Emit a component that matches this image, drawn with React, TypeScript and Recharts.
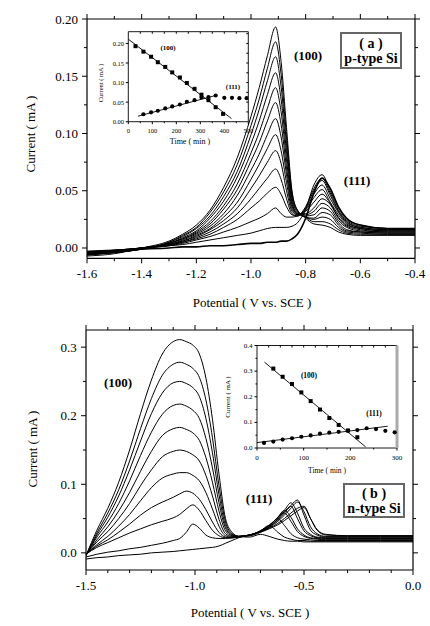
import React from 'react';
import { LineChart, ComposedChart, Line, Scatter, XAxis, YAxis, CartesianGrid } from 'recharts';

const SERIF = "'Liberation Serif', 'Times New Roman', serif";

// ---------- (a) p-type Si : linear sweep curves ----------
const potentialsA = [-1.6, -1.5, -1.4, -1.3, -1.25, -1.2, -1.15, -1.1, -1.05, -1.0, -0.97, -0.94, -0.91, -0.89, -0.87, -0.85, -0.83, -0.8, -0.77, -0.74, -0.71, -0.68, -0.65, -0.6, -0.5, -0.4];

const scanA01 = [-0.007, -0.005, 0.0, 0.006, 0.012, 0.02, 0.033, 0.053, 0.079, 0.115, 0.14, 0.168, 0.193, 0.163, 0.105, 0.05, 0.033, 0.026, 0.021, 0.02, 0.018, 0.014, 0.012, 0.011, 0.011, 0.011];
const scanA02 = [-0.006, -0.004, -0.001, 0.005, 0.011, 0.018, 0.031, 0.049, 0.073, 0.107, 0.13, 0.157, 0.18, 0.152, 0.098, 0.048, 0.033, 0.027, 0.023, 0.023, 0.021, 0.016, 0.013, 0.012, 0.012, 0.012];
const scanA03 = [-0.006, -0.004, -0.001, 0.005, 0.01, 0.017, 0.028, 0.045, 0.067, 0.099, 0.121, 0.146, 0.167, 0.141, 0.091, 0.045, 0.032, 0.027, 0.025, 0.027, 0.025, 0.018, 0.014, 0.013, 0.012, 0.012];
const scanA04 = [-0.006, -0.004, -0.001, 0.004, 0.009, 0.015, 0.026, 0.041, 0.062, 0.091, 0.111, 0.134, 0.153, 0.13, 0.084, 0.043, 0.031, 0.027, 0.026, 0.031, 0.029, 0.02, 0.015, 0.014, 0.013, 0.013];
const scanA05 = [-0.005, -0.004, -0.001, 0.004, 0.008, 0.014, 0.023, 0.037, 0.056, 0.083, 0.101, 0.122, 0.14, 0.119, 0.077, 0.04, 0.03, 0.028, 0.029, 0.035, 0.032, 0.022, 0.016, 0.014, 0.013, 0.013];
const scanA06 = [-0.005, -0.003, 0.0, 0.004, 0.008, 0.013, 0.021, 0.034, 0.051, 0.076, 0.092, 0.111, 0.127, 0.108, 0.07, 0.038, 0.03, 0.029, 0.032, 0.039, 0.035, 0.024, 0.018, 0.015, 0.014, 0.014];
const scanA07 = [-0.005, -0.003, 0.0, 0.003, 0.007, 0.012, 0.019, 0.03, 0.046, 0.068, 0.082, 0.099, 0.113, 0.097, 0.064, 0.036, 0.03, 0.03, 0.035, 0.043, 0.038, 0.026, 0.019, 0.016, 0.014, 0.014];
const scanA08 = [-0.005, -0.003, 0.0, 0.003, 0.006, 0.011, 0.017, 0.027, 0.04, 0.06, 0.073, 0.087, 0.099, 0.085, 0.057, 0.034, 0.029, 0.032, 0.04, 0.047, 0.039, 0.027, 0.02, 0.017, 0.015, 0.015];
const scanA09 = [-0.004, -0.003, 0.0, 0.003, 0.006, 0.01, 0.016, 0.024, 0.035, 0.052, 0.063, 0.075, 0.085, 0.074, 0.05, 0.032, 0.029, 0.033, 0.044, 0.051, 0.04, 0.029, 0.021, 0.017, 0.015, 0.015];
const scanA10 = [-0.004, -0.003, 0.0, 0.003, 0.005, 0.009, 0.014, 0.021, 0.03, 0.043, 0.052, 0.061, 0.069, 0.06, 0.043, 0.03, 0.028, 0.034, 0.047, 0.055, 0.043, 0.031, 0.022, 0.018, 0.016, 0.016];
const scanA11 = [-0.004, -0.002, 0.0, 0.002, 0.005, 0.008, 0.012, 0.018, 0.025, 0.035, 0.041, 0.048, 0.053, 0.047, 0.036, 0.029, 0.028, 0.035, 0.05, 0.059, 0.046, 0.032, 0.023, 0.018, 0.016, 0.016];
const scanA12 = [-0.004, -0.002, 0.0, 0.002, 0.004, 0.007, 0.01, 0.014, 0.018, 0.023, 0.026, 0.03, 0.035, 0.03, 0.027, 0.027, 0.028, 0.036, 0.052, 0.061, 0.048, 0.033, 0.024, 0.019, 0.017, 0.016];
const scanA13 = [-0.003, -0.002, 0.0, 0.002, 0.003, 0.005, 0.007, 0.009, 0.011, 0.013, 0.015, 0.017, 0.018, 0.018, 0.018, 0.019, 0.022, 0.034, 0.055, 0.064, 0.05, 0.035, 0.025, 0.02, 0.017, 0.017];
const scanA14 = [-0.003, -0.002, -0.001, 0.0, 0.001, 0.001, 0.002, 0.002, 0.003, 0.004, 0.004, 0.005, 0.005, 0.006, 0.006, 0.008, 0.012, 0.026, 0.048, 0.061, 0.052, 0.036, 0.026, 0.02, 0.017, 0.017];
const scansA = [scanA01, scanA02, scanA03, scanA04, scanA05, scanA06, scanA07, scanA08, scanA09, scanA10, scanA11, scanA12, scanA13, scanA14];

const xTicksA = [-1.6, -1.5, -1.4, -1.3, -1.2, -1.1, -1.0, -0.9, -0.8, -0.7, -0.6, -0.5, -0.4];
const xMajorsA = [-1.6, -1.4, -1.2, -1.0, -0.8, -0.6, -0.4];
const xLabelsA = ['-1.6', '-1.4', '-1.2', '-1.0', '-0.8', '-0.6', '-0.4'];
const yTicksA = [0, 0.025, 0.05, 0.075, 0.1, 0.125, 0.15, 0.175, 0.2];
const yMajorsA = [0, 0.05, 0.1, 0.15, 0.2];
const yLabelsA = ['0.00', '0.05', '0.10', '0.15', '0.20'];

// inset (a): peak current vs time
const timeA100 = [30, 63, 95, 123, 154, 183, 215, 244, 276, 305, 334, 364, 395];
const currentA100 = [0.193, 0.179, 0.166, 0.152, 0.14, 0.126, 0.113, 0.099, 0.084, 0.069, 0.055, 0.037, 0.02];
const timeA111 = [63, 95, 123, 154, 183, 215, 244, 276, 305, 334, 364, 400, 432, 463, 493];
const currentA111 = [0.019, 0.024, 0.028, 0.034, 0.039, 0.044, 0.051, 0.055, 0.062, 0.063, 0.067, 0.061, 0.061, 0.06, 0.06];
const fitTimeA100 = [0, 430];
const fitCurrentA100 = [0.211, 0.008];
const fitTimeA111 = [40, 370];
const fitCurrentA111 = [0.014, 0.068];

// ---------- (b) n-type Si ----------
const potentialsB = [-1.5, -1.45, -1.4, -1.35, -1.3, -1.25, -1.2, -1.15, -1.1, -1.07, -1.04, -1.01, -0.98, -0.95, -0.92, -0.89, -0.86, -0.83, -0.8, -0.75, -0.7, -0.66, -0.62, -0.59, -0.56, -0.53, -0.5, -0.47, -0.44, -0.4, -0.3, -0.15, 0.0];

const scanB01 = [-0.004, 0.033, 0.065, 0.103, 0.15, 0.203, 0.252, 0.29, 0.308, 0.311, 0.308, 0.303, 0.29, 0.255, 0.195, 0.115, 0.05, 0.03, 0.024, 0.023, 0.027, 0.024, 0.02, 0.018, 0.017, 0.017, 0.016, 0.016, 0.016, 0.016, 0.016, 0.016, 0.016];
const scanB02 = [-0.004, 0.029, 0.058, 0.092, 0.134, 0.181, 0.225, 0.259, 0.275, 0.278, 0.275, 0.269, 0.256, 0.223, 0.168, 0.098, 0.045, 0.028, 0.024, 0.025, 0.032, 0.04, 0.03, 0.023, 0.02, 0.018, 0.018, 0.017, 0.017, 0.017, 0.017, 0.017, 0.017];
const scanB03 = [-0.004, 0.026, 0.052, 0.083, 0.121, 0.163, 0.203, 0.233, 0.248, 0.25, 0.247, 0.241, 0.228, 0.196, 0.146, 0.085, 0.04, 0.027, 0.024, 0.025, 0.03, 0.038, 0.05, 0.04, 0.028, 0.022, 0.02, 0.019, 0.018, 0.018, 0.018, 0.018, 0.018];
const scanB04 = [-0.004, 0.023, 0.045, 0.072, 0.105, 0.142, 0.176, 0.202, 0.215, 0.217, 0.214, 0.208, 0.196, 0.167, 0.124, 0.073, 0.036, 0.026, 0.024, 0.026, 0.031, 0.038, 0.049, 0.058, 0.046, 0.031, 0.024, 0.021, 0.02, 0.019, 0.019, 0.019, 0.019];
const scanB05 = [-0.003, 0.019, 0.038, 0.061, 0.088, 0.119, 0.148, 0.171, 0.181, 0.183, 0.18, 0.175, 0.164, 0.139, 0.103, 0.061, 0.032, 0.025, 0.024, 0.026, 0.032, 0.04, 0.052, 0.062, 0.052, 0.035, 0.026, 0.022, 0.021, 0.02, 0.02, 0.02, 0.02];
const scanB06 = [-0.003, 0.016, 0.031, 0.05, 0.072, 0.098, 0.121, 0.14, 0.148, 0.15, 0.148, 0.143, 0.134, 0.113, 0.083, 0.049, 0.028, 0.024, 0.024, 0.026, 0.032, 0.04, 0.051, 0.06, 0.068, 0.05, 0.032, 0.025, 0.022, 0.021, 0.021, 0.021, 0.021];
const scanB07 = [-0.003, 0.012, 0.024, 0.039, 0.056, 0.076, 0.095, 0.109, 0.115, 0.117, 0.117, 0.113, 0.105, 0.088, 0.064, 0.039, 0.025, 0.023, 0.024, 0.026, 0.032, 0.04, 0.052, 0.062, 0.073, 0.058, 0.036, 0.027, 0.023, 0.022, 0.022, 0.022, 0.022];
const scanB08 = [-0.002, 0.01, 0.019, 0.03, 0.042, 0.055, 0.066, 0.074, 0.081, 0.086, 0.09, 0.087, 0.078, 0.063, 0.045, 0.03, 0.023, 0.022, 0.023, 0.026, 0.031, 0.038, 0.048, 0.058, 0.069, 0.077, 0.055, 0.033, 0.026, 0.023, 0.023, 0.023, 0.023];
const scanB09 = [-0.002, 0.008, 0.015, 0.022, 0.029, 0.035, 0.041, 0.046, 0.051, 0.056, 0.064, 0.07, 0.062, 0.047, 0.033, 0.025, 0.022, 0.022, 0.023, 0.026, 0.031, 0.037, 0.046, 0.055, 0.065, 0.074, 0.06, 0.038, 0.028, 0.024, 0.024, 0.024, 0.024];
const scanB10 = [-0.006, -0.002, 0.001, 0.003, 0.006, 0.008, 0.011, 0.014, 0.018, 0.021, 0.03, 0.042, 0.036, 0.026, 0.022, 0.021, 0.021, 0.022, 0.023, 0.026, 0.031, 0.036, 0.043, 0.05, 0.058, 0.065, 0.068, 0.05, 0.033, 0.026, 0.025, 0.025, 0.025];
const scanB11 = [-0.009, -0.007, -0.006, -0.004, -0.003, -0.002, 0.0, 0.001, 0.002, 0.003, 0.004, 0.005, 0.006, 0.007, 0.008, 0.01, 0.014, 0.018, 0.022, 0.026, 0.03, 0.035, 0.041, 0.047, 0.054, 0.061, 0.066, 0.05, 0.034, 0.027, 0.025, 0.025, 0.025];
const scansB = [scanB01, scanB02, scanB03, scanB04, scanB05, scanB06, scanB07, scanB08, scanB09, scanB10, scanB11];

const xTicksB = [-1.5, -1.4, -1.3, -1.2, -1.1, -1.0, -0.9, -0.8, -0.7, -0.6, -0.5, -0.4, -0.3, -0.2, -0.1, 0.0];
const xMajorsB = [-1.5, -1.0, -0.5, 0.0];
const xLabelsB = ['-1.5', '-1.0', '-0.5', '0.0'];
const yTicksB = [0, 0.05, 0.1, 0.15, 0.2, 0.25, 0.3];
const yMajorsB = [0, 0.1, 0.2, 0.3];
const yLabelsB = ['0.0', '0.1', '0.2', '0.3'];

// inset (b)
const timeB100 = [35, 55, 75, 95, 115, 135, 155, 175, 195, 215];
const currentB100 = [0.31, 0.278, 0.25, 0.217, 0.183, 0.15, 0.117, 0.09, 0.068, 0.042];
const timeB111 = [15, 35, 55, 75, 95, 115, 135, 155, 175, 195, 215, 235, 255, 275, 295];
const currentB111 = [0.02, 0.025, 0.033, 0.038, 0.044, 0.049, 0.056, 0.06, 0.063, 0.068, 0.07, 0.077, 0.074, 0.067, 0.061];
const fitTimeB100 = [16, 233];
const fitCurrentB100 = [0.335, 0.004];
const fitTimeB111 = [0, 280];
const fitCurrentB111 = [0.021, 0.085];

// ---------- helpers ----------
const toRows = (xs: number[], scans: number[][]) =>
  xs.map((x, i) => {
    const row: Record<string, number> = { x };
    scans.forEach((s, k) => {
      row[`s${k}`] = s[i];
    });
    return row;
  });

const toPoints = (ts: number[], vs: number[]) => ts.map((t, i) => ({ t, v: vs[i] }));

type Side = 'left' | 'right' | 'top' | 'bottom';
interface TickSpec {
  side: Side;
  majors: number[];
  labels?: string[];
  majorLen: number;
  minorLen: number;
  inward?: boolean;
  gap?: number;
  fontSize?: number;
}

const near = (a: number, b: number) => Math.abs(a - b) < 1e-6;

// draws tick line (major/minor length) + label; x,y arrive on the axis line
function tickRenderer(spec: TickSpec) {
  return (props: any) => {
    const { x, y, payload } = props;
    const idx = spec.majors.findIndex((m) => near(m, payload.value));
    const len = idx >= 0 ? spec.majorLen : spec.minorLen;
    const dir = spec.inward ? -1 : 1;
    let x2 = x;
    let y2 = y;
    if (spec.side === 'left') x2 = x - dir * len;
    if (spec.side === 'right') x2 = x + dir * len;
    if (spec.side === 'top') y2 = y - dir * len;
    if (spec.side === 'bottom') y2 = y + dir * len;
    const label = idx >= 0 && spec.labels ? spec.labels[idx] : null;
    const textStyle = { fontFamily: SERIF, fontSize: spec.fontSize ?? 13 };
    return (
      <g>
        {len > 0 && <line x1={x} y1={y} x2={x2} y2={y2} stroke="#000" strokeWidth={1} />}
        {label !== null &&
          (spec.side === 'left' ? (
            <text x={x - (spec.gap ?? 0)} y={y} textAnchor="end" dominantBaseline="central" fill="#000" style={textStyle}>
              {label}
            </text>
          ) : (
            <text x={x} y={y + (spec.gap ?? 0)} textAnchor="middle" dominantBaseline="central" fill="#000" style={textStyle}>
              {label}
            </text>
          ))}
      </g>
    );
  };
}

const frame = { stroke: '#000', strokeWidth: 1.2 };

interface PanelProps {
  rows: Record<string, number>[];
  nScans: number;
  heavy: number;
  width: number;
  height: number;
  xDomain: [number, number];
  yDomain: [number, number];
  xTicks: number[];
  xMajors: number[];
  xLabels: string[];
  yTicks: number[];
  yMajors: number[];
  yLabels: string[];
  leftW: number;
  rightW: number;
  topH: number;
  bottomH: number;
  xGap: number;
  yGap: number;
}

function CvPanel(p: PanelProps) {
  const axisCommon = { tickSize: 0, tickMargin: 0, tickLine: false, axisLine: frame, interval: 0 as const, allowDataOverflow: true };
  return (
    <LineChart width={p.width} height={p.height} data={p.rows} margin={{ top: 0, right: 0, bottom: 0, left: 0 }}>
      <XAxis xAxisId="bottom" orientation="bottom" type="number" dataKey="x" domain={p.xDomain} ticks={p.xTicks} height={p.bottomH}
        tick={tickRenderer({ side: 'bottom', majors: p.xMajors, labels: p.xLabels, majorLen: 5, minorLen: 3, gap: p.xGap })} {...axisCommon} />
      <XAxis xAxisId="top" orientation="top" type="number" dataKey="x" domain={p.xDomain} ticks={p.xTicks} height={p.topH}
        tick={tickRenderer({ side: 'top', majors: p.xMajors, majorLen: 5, minorLen: 3 })} {...axisCommon} />
      <YAxis yAxisId="left" orientation="left" type="number" domain={p.yDomain} ticks={p.yTicks} width={p.leftW}
        tick={tickRenderer({ side: 'left', majors: p.yMajors, labels: p.yLabels, majorLen: 5, minorLen: 3, gap: p.yGap })} {...axisCommon} />
      <YAxis yAxisId="right" orientation="right" type="number" domain={p.yDomain} ticks={p.yTicks} width={p.rightW}
        tick={tickRenderer({ side: 'right', majors: p.yMajors, majorLen: 5, minorLen: 3 })} {...axisCommon} />
      {Array.from({ length: p.nScans }).map((_, k) => (
        <Line key={k} xAxisId="bottom" yAxisId="left" dataKey={`s${k}`} type="monotone" stroke="#000"
          strokeWidth={k === p.heavy ? 1.6 : 1} dot={false} activeDot={false} isAnimationActive={false} />
      ))}
    </LineChart>
  );
}

interface InsetProps {
  width: number;
  height: number;
  margin: { top: number; right: number; bottom: number; left: number };
  leftW: number;
  bottomH: number;
  xDomain: [number, number];
  yDomain: [number, number];
  xTicks: number[];
  xMajors: number[];
  xLabels: string[];
  topTicks: number[];
  yTicks: number[];
  yMajors: number[];
  yLabels: string[];
  rightTicks: number[];
  grayRight?: boolean;
  pts100: { t: number; v: number }[];
  pts111: { t: number; v: number }[];
  fit100: { t: number; v: number }[];
  fit111: { t: number; v: number }[];
  font: number;
  xGap: number;
  yGap: number;
}

function InsetPanel(p: InsetProps) {
  const thin = { stroke: '#000', strokeWidth: 0.9 };
  const axisCommon = { tickSize: 0, tickMargin: 0, tickLine: false, interval: 0 as const, allowDataOverflow: true, type: 'number' as const };
  return (
    <ComposedChart width={p.width} height={p.height} margin={p.margin}>
      <CartesianGrid xAxisId="b" yAxisId="l" horizontal={false} vertical={false} fill="#fff" />
      <XAxis xAxisId="b" orientation="bottom" dataKey="t" domain={p.xDomain} ticks={p.xTicks} height={p.bottomH} axisLine={thin}
        tick={tickRenderer({ side: 'bottom', majors: p.xMajors, labels: p.xLabels, majorLen: 2.5, minorLen: 1.5, gap: p.xGap, fontSize: p.font })} {...axisCommon} />
      <XAxis xAxisId="t" orientation="top" mirror dataKey="t" domain={p.xDomain} ticks={p.topTicks} axisLine={thin}
        tick={tickRenderer({ side: 'top', majors: [], majorLen: 2, minorLen: 2, inward: true })} {...axisCommon} />
      <YAxis yAxisId="l" orientation="left" dataKey="v" domain={p.yDomain} ticks={p.yTicks} width={p.leftW} axisLine={thin}
        tick={tickRenderer({ side: 'left', majors: p.yMajors, labels: p.yLabels, majorLen: 2.5, minorLen: 1.5, gap: p.yGap, fontSize: p.font })} {...axisCommon} />
      <YAxis yAxisId="r" orientation="right" mirror dataKey="v" domain={p.yDomain} ticks={p.rightTicks}
        axisLine={p.grayRight ? { stroke: '#aaa', strokeWidth: 3 } : thin}
        tick={tickRenderer({ side: 'right', majors: [], majorLen: 2, minorLen: 2, inward: true })} {...axisCommon} />
      <Line xAxisId="b" yAxisId="l" data={p.fit100} dataKey="v" type="linear" stroke="#000" strokeWidth={0.9} dot={false} activeDot={false} isAnimationActive={false} />
      <Line xAxisId="b" yAxisId="l" data={p.fit111} dataKey="v" type="linear" stroke="#000" strokeWidth={0.9} dot={false} activeDot={false} isAnimationActive={false} />
      <Scatter xAxisId="b" yAxisId="l" data={p.pts100} dataKey="v" isAnimationActive={false}
        shape={(s: any) => <rect x={s.cx - 2} y={s.cy - 2} width={4} height={4} fill="#000" />} />
      <Scatter xAxisId="b" yAxisId="l" data={p.pts111} dataKey="v" isAnimationActive={false}
        shape={(s: any) => <circle cx={s.cx} cy={s.cy} r={2.1} fill="#000" />} />
    </ComposedChart>
  );
}

function Note({ x, y, size, bold, rotate, children }: { x: number; y: number; size: number; bold?: boolean; rotate?: number; children: React.ReactNode }) {
  return (
    <div
      style={{
        position: 'absolute',
        left: x,
        top: y,
        transform: `translate(-50%, -50%)${rotate ? ` rotate(${rotate}deg)` : ''}`,
        fontFamily: SERIF,
        fontSize: size,
        fontWeight: bold ? 700 : 400,
        whiteSpace: 'nowrap',
        lineHeight: 1,
        color: '#000',
      }}
    >
      {children}
    </div>
  );
}

function TagBox({ left, top, width, height, line1, line2 }: { left: number; top: number; width: number; height: number; line1: string; line2: string }) {
  return (
    <div
      style={{
        position: 'absolute',
        left,
        top,
        width,
        height,
        boxSizing: 'border-box',
        border: '2px solid #666',
        background: '#fff',
        display: 'flex',
        flexDirection: 'column',
        alignItems: 'center',
        justifyContent: 'center',
        fontFamily: SERIF,
        fontWeight: 700,
        fontSize: 14,
        lineHeight: '15px',
      }}
    >
      <span>{line1}</span>
      <span>{line2}</span>
    </div>
  );
}

export default function App() {
  const rowsA = toRows(potentialsA, scansA);
  const rowsB = toRows(potentialsB, scansB);

  return (
    <div style={{ position: 'absolute', left: 0, top: 0, width: 430, height: 626, background: '#fff' }}>
      {/* panel (a) */}
      <div style={{ position: 'absolute', left: 0, top: 0 }}>
        <CvPanel rows={rowsA} nScans={scansA.length} heavy={13} width={430} height={310}
          xDomain={[-1.6, -0.4]} yDomain={[-0.009, 0.2]}
          xTicks={xTicksA} xMajors={xMajorsA} xLabels={xLabelsA}
          yTicks={yTicksA} yMajors={yMajorsA} yLabels={yLabelsA}
          leftW={87} rightW={15} topH={19} bottomH={51.7} xGap={14.7} yGap={9} />
      </div>
      <div style={{ position: 'absolute', left: 96, top: 25 }}>
        <InsetPanel width={160} height={125} margin={{ top: 6.7, right: 7.7, bottom: 0, left: 0 }} leftW={32.3} bottomH={28.3}
          xDomain={[0, 500]} yDomain={[0, 0.23]}
          xTicks={[0, 50, 100, 150, 200, 250, 300, 350, 400, 450, 500]} xMajors={[0, 100, 200, 300, 400, 500]}
          xLabels={['0', '100', '200', '300', '400', '500']}
          topTicks={[50, 100, 150, 200, 250, 300, 350, 400, 450]}
          yTicks={[0, 0.05, 0.1, 0.15, 0.2]} yMajors={[0, 0.05, 0.1, 0.15, 0.2]} yLabels={['0.00', '0.05', '0.10', '0.15', '0.20']}
          rightTicks={[0.025, 0.05, 0.075, 0.1, 0.125, 0.15, 0.175, 0.2, 0.225]}
          pts100={toPoints(timeA100, currentA100)} pts111={toPoints(timeA111, currentA111)}
          fit100={toPoints(fitTimeA100, fitCurrentA100)} fit111={toPoints(fitTimeA111, fitCurrentA111)}
          font={6.5} xGap={8.3} yGap={4.3} />
      </div>

      {/* panel (b) */}
      <div style={{ position: 'absolute', left: 0, top: 310 }}>
        <CvPanel rows={rowsB} nScans={scansB.length} heavy={-1} width={430} height={316}
          xDomain={[-1.5, 0]} yDomain={[-0.025, 0.325]}
          xTicks={xTicksB} xMajors={xMajorsB} xLabels={xLabelsB}
          yTicks={yTicksB} yMajors={yMajorsB} yLabels={yLabelsB}
          leftW={86} rightW={17} topH={20} bottomH={56} xGap={15} yGap={9.3} />
      </div>
      <div style={{ position: 'absolute', left: 225, top: 338 }}>
        <InsetPanel width={180} height={140} margin={{ top: 7.5, right: 8, bottom: 0, left: 0 }} leftW={32} bottomH={30}
          xDomain={[0, 300]} yDomain={[0, 0.4]}
          xTicks={[0, 50, 100, 150, 200, 250, 300]} xMajors={[0, 100, 200, 300]} xLabels={['0', '100', '200', '300']}
          topTicks={[25, 50, 75, 100, 125, 150, 175, 200, 225, 250, 275]}
          yTicks={[0, 0.05, 0.1, 0.15, 0.2, 0.25, 0.3, 0.35, 0.4]} yMajors={[0, 0.1, 0.2, 0.3, 0.4]} yLabels={['0.0', '0.1', '0.2', '0.3', '0.4']}
          rightTicks={[]} grayRight
          pts100={toPoints(timeB100, currentB100)} pts111={toPoints(timeB111, currentB111)}
          fit100={toPoints(fitTimeB100, fitCurrentB100)} fit111={toPoints(fitTimeB111, fitCurrentB111)}
          font={7} xGap={9.5} yGap={4.5} />
      </div>

      {/* axis titles */}
      <Note x={30} y={134} size={13} rotate={-90}>Current ( mA )</Note>
      <Note x={252} y={302} size={13}>Potential ( V vs. SCE )</Note>
      <Note x={32} y={449} size={13} rotate={-90}>Current ( mA )</Note>
      <Note x={250} y={612} size={13}>Potential ( V vs. SCE )</Note>

      {/* peak labels */}
      <Note x={308} y={55} size={13} bold>(100)</Note>
      <Note x={357} y={180} size={13} bold>(111)</Note>
      <Note x={118} y={382} size={13} bold>(100)</Note>
      <Note x={259} y={498} size={13} bold>(111)</Note>

      <TagBox left={340} top={32} width={62} height={37} line1="( a )" line2="p-type Si" />
      <TagBox left={343} top={483} width={62} height={35} line1="( b )" line2="n-type Si" />

      {/* inset annotations */}
      <Note x={101} y={83} size={6.5} rotate={-90}>Current ( mA )</Note>
      <Note x={190} y={142} size={8}>Time ( min )</Note>
      <Note x={168} y={48} size={7} bold>(100)</Note>
      <Note x={233} y={87} size={7} bold>(111)</Note>

      <Note x={228} y={397} size={7} rotate={-90}>Current ( mA )</Note>
      <Note x={327} y={471} size={7.5}>Time ( min )</Note>
      <Note x={309} y={376} size={7.5} bold>(100)</Note>
      <Note x={374} y={414} size={7.5} bold>(111)</Note>
    </div>
  );
}
